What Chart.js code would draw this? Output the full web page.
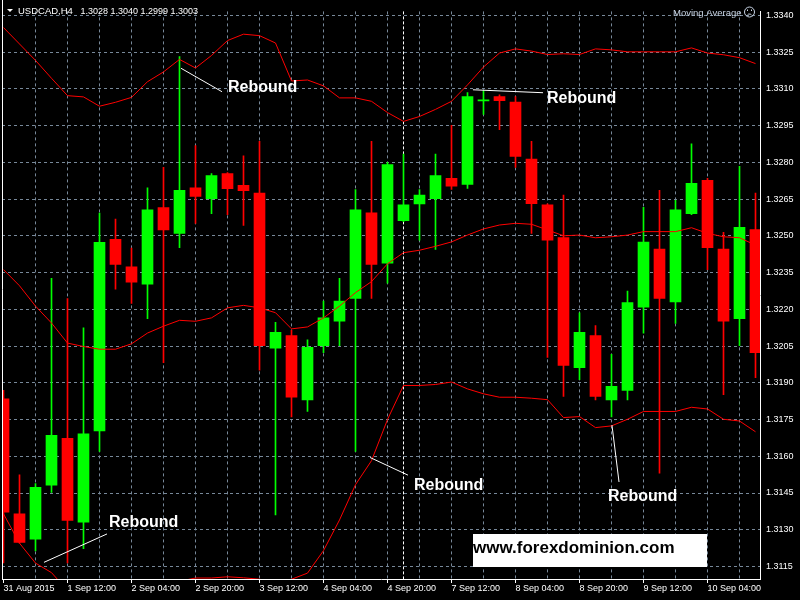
<!DOCTYPE html>
<html>
<head>
<meta charset="utf-8">
<title>USDCAD H4</title>
<script src="https://cdn.jsdelivr.net/npm/chart.js@4.4.1/dist/chart.umd.min.js"></script>
<style>
  html, body { margin: 0; padding: 0; background: #000; }
  #wrap { width: 800px; height: 600px; }
</style>
</head>
<body>
<div id="wrap"><canvas id="chart" width="800" height="600"></canvas></div>
<script>
// ---- data (H4 candles, 31 Aug 20:00 .. 10 Sep 16:00) ----
const times = [
  '31 Aug 2015', '1 Sep 00:00', '1 Sep 04:00', '1 Sep 08:00', '1 Sep 12:00', '1 Sep 16:00',
  '1 Sep 20:00', '2 Sep 00:00', '2 Sep 04:00', '2 Sep 08:00', '2 Sep 12:00', '2 Sep 16:00',
  '2 Sep 20:00', '3 Sep 00:00', '3 Sep 04:00', '3 Sep 08:00', '3 Sep 12:00', '3 Sep 16:00',
  '3 Sep 20:00', '4 Sep 00:00', '4 Sep 04:00', '4 Sep 08:00', '4 Sep 12:00', '4 Sep 16:00',
  '4 Sep 20:00', '7 Sep 00:00', '7 Sep 04:00', '7 Sep 08:00', '7 Sep 12:00', '7 Sep 16:00',
  '7 Sep 20:00', '8 Sep 00:00', '8 Sep 04:00', '8 Sep 08:00', '8 Sep 12:00', '8 Sep 16:00',
  '8 Sep 20:00', '9 Sep 00:00', '9 Sep 04:00', '9 Sep 08:00', '9 Sep 12:00', '9 Sep 16:00',
  '9 Sep 20:00', '10 Sep 00:00', '10 Sep 04:00', '10 Sep 08:00', '10 Sep 12:00', '10 Sep 16:00'
];

const opens = [
  1.31834, 1.31365, 1.31262, 1.31482, 1.31673, 1.31331, 1.31703, 1.32486, 1.32373, 1.32303,
  1.32615, 1.32510, 1.32696, 1.32652, 1.32754, 1.32706, 1.32674, 1.32041, 1.32093, 1.31830,
  1.32051, 1.32151, 1.32244, 1.32594, 1.32388, 1.32562, 1.32630, 1.32652, 1.32735, 1.32710,
  1.33051, 1.33068, 1.33046, 1.32813, 1.32626, 1.32493, 1.31962, 1.32093, 1.31830, 1.31869,
  1.32209, 1.32446, 1.32230, 1.32590, 1.32726, 1.32446, 1.32162, 1.32525
];
const highs = [
  1.31869, 1.31524, 1.31489, 1.32326, 1.32244, 1.32124, 1.32593, 1.32568, 1.32450, 1.32696,
  1.32779, 1.33232, 1.32868, 1.32754, 1.32758, 1.32826, 1.32886, 1.32147, 1.32114, 1.32075,
  1.32234, 1.32326, 1.32689, 1.32886, 1.32800, 1.32834, 1.32689, 1.32834, 1.32951, 1.33085,
  1.33093, 1.33075, 1.33068, 1.32886, 1.32630, 1.32666, 1.32186, 1.32133, 1.32016, 1.32274,
  1.32616, 1.32686, 1.32645, 1.32875, 1.32735, 1.32514, 1.32784, 1.32674
];
const lows = [
  1.31165, 1.31245, 1.31214, 1.31452, 1.31165, 1.31223, 1.31620, 1.32282, 1.32224, 1.32162,
  1.31982, 1.32452, 1.32551, 1.32590, 1.32586, 1.32542, 1.31951, 1.31361, 1.31761, 1.31783,
  1.32023, 1.32051, 1.31620, 1.32244, 1.32307, 1.32558, 1.32482, 1.32444, 1.32689, 1.32693,
  1.32995, 1.32933, 1.32779, 1.32510, 1.32004, 1.31844, 1.31913, 1.31830, 1.31761, 1.31830,
  1.32103, 1.31531, 1.32142, 1.32586, 1.32362, 1.31851, 1.32051, 1.31921
];
const closes = [
  1.31372, 1.31248, 1.31473, 1.31685, 1.31338, 1.31692, 1.32473, 1.32383, 1.32311, 1.32606,
  1.32524, 1.32686, 1.32661, 1.32746, 1.32692, 1.32684, 1.32051, 1.32106, 1.31841, 1.32045,
  1.32165, 1.32234, 1.32606, 1.32383, 1.32791, 1.32626, 1.32666, 1.32746, 1.32703, 1.33068,
  1.33054, 1.33052, 1.32824, 1.32631, 1.32482, 1.31971, 1.32106, 1.31844, 1.31885, 1.32227,
  1.32474, 1.32244, 1.32606, 1.32714, 1.32452, 1.32151, 1.32535, 1.32023
];

// Bollinger bands
const bbUpper = [
  1.33350, 1.33283, 1.33216, 1.33143, 1.33072, 1.33067, 1.33029, 1.33045, 1.33065, 1.33129,
  1.33169, 1.33220, 1.33185, 1.33236, 1.33297, 1.33323, 1.33317, 1.33287, 1.33132, 1.33136,
  1.33112, 1.33063, 1.33063, 1.33049, 1.33003, 1.32967, 1.32987, 1.33016, 1.33049, 1.33116,
  1.33189, 1.33246, 1.33263, 1.33254, 1.33240, 1.33243, 1.33240, 1.33263, 1.33259, 1.33251,
  1.33251, 1.33251, 1.33251, 1.33267, 1.33246, 1.33239, 1.33227, 1.33203
];
const bbMiddle = [
  1.32362, 1.32296, 1.32213, 1.32144, 1.32062, 1.32048, 1.32037, 1.32037, 1.32059, 1.32103,
  1.32131, 1.32155, 1.32151, 1.32165, 1.32206, 1.32216, 1.32206, 1.32186, 1.32120, 1.32128,
  1.32165, 1.32213, 1.32268, 1.32313, 1.32386, 1.32431, 1.32441, 1.32457, 1.32475, 1.32503,
  1.32528, 1.32544, 1.32551, 1.32547, 1.32524, 1.32500, 1.32503, 1.32492, 1.32496, 1.32503,
  1.32517, 1.32517, 1.32517, 1.32533, 1.32510, 1.32496, 1.32492, 1.32462
];
const bbLower = [
  1.31365, 1.31245, 1.31164, 1.31125, 1.31052, 1.31030, 1.31045, 1.31030, 1.31053, 1.31077,
  1.31093, 1.31090, 1.31103, 1.31103, 1.31108, 1.31104, 1.31098, 1.31085, 1.31098, 1.31123,
  1.31215, 1.31340, 1.31484, 1.31582, 1.31750, 1.31889, 1.31889, 1.31893, 1.31903, 1.31875,
  1.31855, 1.31841, 1.31841, 1.31837, 1.31831, 1.31758, 1.31762, 1.31717, 1.31724, 1.31751,
  1.31783, 1.31783, 1.31783, 1.31800, 1.31793, 1.31751, 1.31744, 1.31700
];

const priceTicks = [
  1.3115, 1.3130, 1.3145, 1.3160, 1.3175, 1.3190, 1.3205, 1.3220,
  1.3235, 1.3250, 1.3265, 1.3280, 1.3295, 1.3310, 1.3325, 1.3340
];

const weekBreak = 25;          // first bar of the new week (7 Sep 00:00)
const symbolName = 'USDCAD,H4';
const headerQuote = ['1.3028', '1.3040', '1.2999', '1.3003'];
const indicatorName = 'Moving Average';
const watermark = 'www.forexdominion.com';

// "Rebound" notes: text anchor [bar, price] and pointer line [[bar, price], [bar, price]]
const rebounds = [
  { at: [14.03, 1.33106], line: [[11.09, 1.33184], [13.66, 1.33088]] },
  { at: [33.97, 1.33060], line: [[29.34, 1.33096], [33.72, 1.33084]] },
  { at: [25.66, 1.31479], line: [[22.91, 1.31595], [25.28, 1.31523]] },
  { at: [37.78, 1.31435], line: [[38.03, 1.31727], [38.47, 1.31495]] },
  { at: [6.59, 1.31331],  line: [[2.53, 1.31167],  [6.47, 1.31283]] }
];

// ---- build ----
const UP = '#00ff00';
const DOWN = '#ff0000';
const BAND = '#ff0000';
const GRID = '#778899';
const axisFont = { family: "'Liberation Sans', Arial, sans-serif", size: 9 };

const idx = times.map((t, i) => i);
const candleColor = idx.map(i => closes[i] >= opens[i] ? UP : DOWN);

function bandSet(label, values) {
  return {
    type: 'line',
    label,
    data: idx.map(i => ({ x: i, y: values[i] })),
    borderColor: BAND,
    borderWidth: 1,
    pointRadius: 0,
    tension: 0,
    order: 0
  };
}

const mt4Overlay = {
  id: 'mt4Overlay',
  beforeDraw(chart) {
    const ctx = chart.ctx;
    ctx.save();
    ctx.fillStyle = '#000000';
    ctx.fillRect(0, 0, chart.width, chart.height);
    ctx.restore();
  },
  beforeDatasetsDraw(chart) {
    const { ctx, chartArea: ca, scales: { x } } = chart;
    const px = Math.round(x.getPixelForValue(weekBreak)) + 0.5;
    ctx.save();
    ctx.strokeStyle = '#ffffff';
    ctx.lineWidth = 1;
    ctx.setLineDash([3, 2]);
    ctx.beginPath();
    ctx.moveTo(px, ca.top);
    ctx.lineTo(px, ca.bottom);
    ctx.stroke();
    ctx.restore();
  },
  afterDraw(chart) {
    const { ctx, chartArea: ca, scales: { x, y } } = chart;
    ctx.save();

    // left frame line
    ctx.strokeStyle = '#ffffff';
    ctx.lineWidth = 1;
    ctx.beginPath();
    ctx.moveTo(ca.left + 0.5, 0);
    ctx.lineTo(ca.left + 0.5, ca.bottom + 0.5);
    ctx.stroke();

    // rebound notes
    ctx.lineWidth = 1;
    ctx.strokeStyle = '#ffffff';
    ctx.fillStyle = '#ffffff';
    ctx.font = "bold 16px 'Liberation Sans', Arial, sans-serif";
    ctx.textBaseline = 'middle';
    ctx.textAlign = 'left';
    rebounds.forEach(r => {
      ctx.beginPath();
      r.line.forEach((p, j) => {
        const lx = x.getPixelForValue(p[0]);
        const ly = y.getPixelForValue(p[1]);
        if (j === 0) ctx.moveTo(lx, ly); else ctx.lineTo(lx, ly);
      });
      ctx.stroke();
      ctx.fillText('Rebound', x.getPixelForValue(r.at[0]), y.getPixelForValue(r.at[1]));
    });

    // watermark
    ctx.fillStyle = '#ffffff';
    ctx.fillRect(473, 534, 234, 33);
    ctx.fillStyle = '#000000';
    ctx.font = "bold 17px 'Liberation Sans', Arial, sans-serif";
    ctx.textBaseline = 'alphabetic';
    ctx.fillText(watermark, 473, 553);

    // header
    ctx.fillStyle = '#ffffff';
    ctx.beginPath();
    ctx.moveTo(7, 9);
    ctx.lineTo(13, 9);
    ctx.lineTo(10, 12);
    ctx.closePath();
    ctx.fill();
    ctx.font = "9.5px 'Liberation Sans', Arial, sans-serif";
    ctx.fillText(symbolName, 18, 14);
    ctx.font = "9px 'Liberation Sans', Arial, sans-serif";
    ctx.fillText(headerQuote.join(' '), 80.5, 14);

    // indicator label + icon
    ctx.fillStyle = '#c8d4e4';
    ctx.font = "9.5px 'Liberation Sans', Arial, sans-serif";
    ctx.fillText(indicatorName, 673, 15.5);
    ctx.strokeStyle = '#c8d4e4';
    ctx.beginPath();
    ctx.arc(749.5, 12, 5, 0, Math.PI * 2);
    ctx.stroke();
    ctx.fillRect(747, 9.5, 1, 1.5);
    ctx.fillRect(751, 9.5, 1, 1.5);
    ctx.beginPath();
    ctx.arc(749.5, 16.5, 2.5, Math.PI * 1.15, Math.PI * 1.85);
    ctx.stroke();

    ctx.restore();
  }
};

new Chart(document.getElementById('chart'), {
  type: 'bar',
  data: {
    datasets: [
      bandSet('Upper band', bbUpper),
      bandSet('Middle band', bbMiddle),
      bandSet('Lower band', bbLower),
      {
        type: 'bar',
        label: 'Body',
        data: idx.map(i => ({ x: i, y: [opens[i], closes[i]] })),
        backgroundColor: candleColor,
        borderWidth: 0,
        barThickness: 11,
        minBarLength: 1,
        grouped: false,
        order: 1
      },
      {
        type: 'bar',
        label: 'Wick',
        data: idx.map(i => ({ x: i, y: [lows[i], highs[i]] })),
        backgroundColor: candleColor,
        borderWidth: 0,
        barThickness: 1,
        grouped: false,
        order: 2
      }
    ]
  },
  options: {
    responsive: false,
    animation: false,
    events: [],
    layout: { padding: { left: 2, top: 0, right: 0, bottom: 0 } },
    plugins: {
      legend: { display: false },
      tooltip: { enabled: false }
    },
    scales: {
      x: {
        type: 'linear',
        offset: false,
        min: -0.09375,
        max: 47.28125,
        afterBuildTicks: axis => {
          axis.ticks = idx.filter(i => i % 2 === 0).map(i => ({ value: i }));
        },
        afterFit: axis => { axis.height = 21; },
        grid: {
          offset: false,
          color: c => (c.tick && c.tick.value === 0) ? 'rgba(0,0,0,0)' : GRID,
          lineWidth: 1,
          drawTicks: true,
          tickLength: 4,
          tickColor: c => (c.tick && c.tick.value % 4 === 0) ? '#ffffff' : 'rgba(0,0,0,0)'
        },
        border: { color: '#ffffff', width: 1, dash: [3, 3] },
        ticks: {
          autoSkip: false,
          maxRotation: 0,
          minRotation: 0,
          align: 'start',
          padding: 0,
          color: '#ffffff',
          font: axisFont,
          callback: v => v % 4 === 0 ? times[v] : ''
        }
      },
      y: {
        type: 'linear',
        position: 'right',
        min: 1.31099,
        max: 1.33416,
        afterBuildTicks: axis => {
          axis.ticks = priceTicks.map(v => ({ value: v }));
        },
        afterFit: axis => { axis.width = 40; },
        grid: { color: GRID, lineWidth: 1, drawTicks: false },
        border: { color: '#ffffff', width: 1, dash: [3, 3] },
        ticks: {
          padding: 6,
          color: '#ffffff',
          font: axisFont,
          callback: v => v.toFixed(4)
        }
      }
    }
  },
  plugins: [mt4Overlay]
});
</script>
</body>
</html>
